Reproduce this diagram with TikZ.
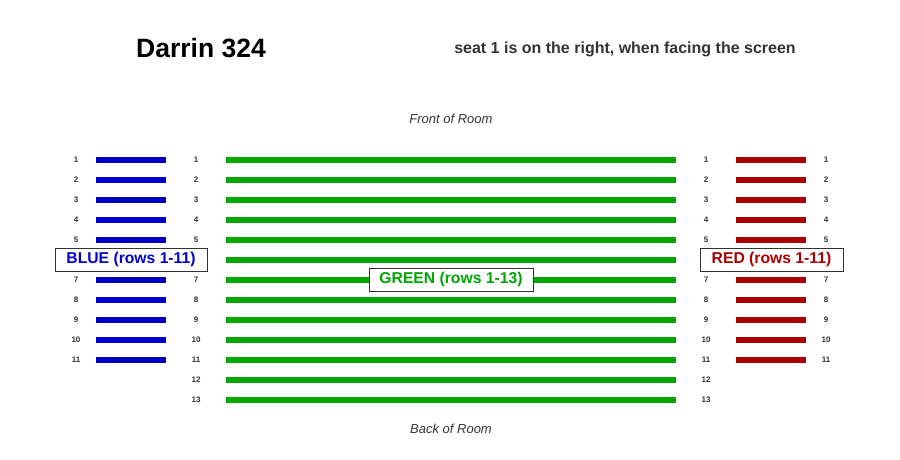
\documentclass[tikz,border=0pt]{standalone}
\usepackage{fontspec}
\setmainfont{Liberation Sans}
\usepackage{xcolor}
\usepackage{tikz}
\usetikzlibrary{positioning}

\definecolor{seatblue}{RGB}{0,0,204}
\definecolor{seatgreen}{RGB}{0,165,0}
\definecolor{seatred}{RGB}{170,0,0}
\definecolor{numgray}{RGB}{51,51,51}

\tikzset{
    rownum/.style={font=\fontsize{8}{9}\selectfont\bfseries, text=numgray, inner sep=0pt},
    seatbar/.style={line width=6pt},
    sectionlabel/.style={draw=numgray, fill=white, line width=0.8pt, inner sep=0pt,
        minimum height=23pt, font=\fontsize{15.7}{18}\selectfont\bfseries},
    roomlabel/.style={font=\fontsize{13}{15}\selectfont\itshape, text=numgray}
}

\begin{document}
\begin{tikzpicture}[x=1pt, y=-1pt]

    \useasboundingbox[fill=white] (0,0) rectangle (900,460);

    % =================================================================
    % 1. TIEU DE
    % =================================================================
    \node[font=\fontsize{26.5}{30}\selectfont\bfseries] (title) at (201,48) {Darrin 324};
    \node[font=\fontsize{16}{18}\selectfont\bfseries, text=numgray] (subtitle) at (625,49)
        {seat 1 is on the right, when facing the screen};

    \node[roomlabel] (front) at (451,119) {Front of Room};
    \node[roomlabel] (back) at (451,429) {Back of Room};

    % =================================================================
    % 2. CAC DAY GHE (hang 6 bi nhan che)
    % =================================================================
    % khoi xanh duong (1-11)
    \foreach \r in {1,...,5,7,8,...,11} {
        \node[rownum] (bl\r) at (76,{140+20*\r}) {\r};
        \draw[seatbar, seatblue] (96,{140+20*\r}) -- (166,{140+20*\r});
    }
    % khoi xanh la (1-13)
    \foreach \r in {1,...,13} {
        \draw[seatbar, seatgreen] (226,{140+20*\r}) -- (676,{140+20*\r});
    }
    \foreach \r in {1,...,5,7,8,...,13} {
        \node[rownum] (gl\r) at (196,{140+20*\r}) {\r};
        \node[rownum] (gr\r) at (706,{140+20*\r}) {\r};
    }
    % khoi do (1-11)
    \foreach \r in {1,...,5,7,8,...,11} {
        \node[rownum] (rr\r) at (826,{140+20*\r}) {\r};
        \draw[seatbar, seatred] (736,{140+20*\r}) -- (806,{140+20*\r});
    }

    % =================================================================
    % 3. NHAN CAC KHOI
    % =================================================================
    \node[sectionlabel, text=seatblue, minimum width=152pt] (blue) at (131,259.5) {BLUE (rows 1-11)};
    \node[sectionlabel, text=seatgreen, minimum width=164pt] (green) at (451,279.5) {GREEN (rows 1-13)};
    \node[sectionlabel, text=seatred, minimum width=143pt] (red) at (771.5,259.5) {RED (rows 1-11)};

\end{tikzpicture}
\end{document}
